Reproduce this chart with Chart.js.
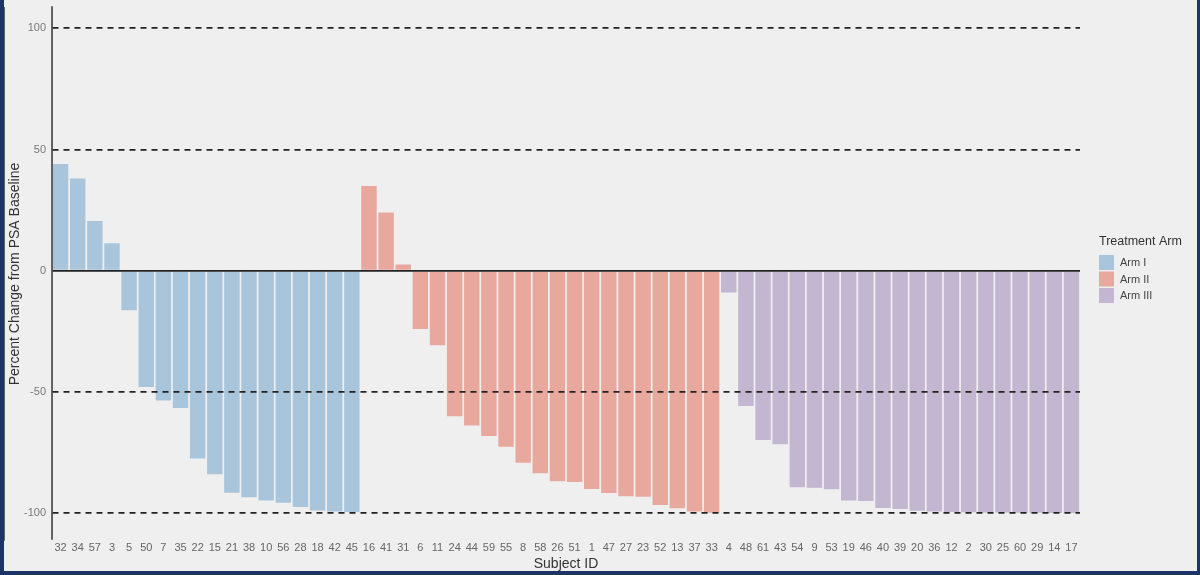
<!DOCTYPE html>
<html>
<head>
<meta charset="utf-8">
<script src="https://cdn.jsdelivr.net/npm/chart.js@4.4.1/dist/chart.umd.min.js"></script>
<style>
  html, body { margin: 0; padding: 0; background: #efefef; }
  #frame {
    width: 1193px; height: 571px;
    border-left: 4px solid #1d3566;
    border-right: 3px solid #1d3566;
    border-bottom: 4px solid #1d3566;
    background: #efefef;
  }
  #wrap { position: relative; width: 1193px; height: 571px; }
</style>
</head>
<body>
<div id="frame"><div id="wrap"><canvas id="waterfall"></canvas></div></div>
<script>
// subject IDs per arm, in plotted order
const armI_ids = ['32','34','57','3','5','50','7','35','22','15','21','38','10','56','28','18','42','45'];
const armII_ids = ['16','41','31','6','11','24','44','59','55','8','58','26','51','1','47','27','23','52','13','37','33'];
const armIII_ids = ['4','48','61','43','54','9','53','19','46','40','39','20','36','12','2','30','25','60','29','14','17'];

// percent change from PSA baseline
const armI_vals = [44, 38, 20.5, 11.3, -16.3, -48, -53.5, -56.6, -77.5, -84, -91.6, -93.4, -94.8, -95.7, -97.5, -98.9, -99.3, -99.5];
const armII_vals = [35, 24, 2.6, -24, -30.7, -60, -63.8, -68.2, -72.6, -79.2, -83.5, -86.8, -87.2, -90, -91.7, -93, -93.2, -96.6, -98, -99.3, -99.8];
const armIII_vals = [-9, -55.8, -69.8, -71.6, -89.3, -89.5, -90.1, -94.8, -95, -97.9, -98.3, -99, -99.3, -99.5, -99.6, -99.7, -99.7, -99.8, -99.8, -99.9, -99.9];

const yTicks = [-100, -50, 0, 50, 100];

const labels = [...armI_ids, ...armII_ids, ...armIII_ids];
const n1 = armI_ids.length, n2 = armII_ids.length, n3 = armIII_ids.length;
const pad = (k) => Array(k).fill(null);

const armI_data = [...armI_vals, ...pad(n2 + n3)];
const armII_data = [...pad(n1), ...armII_vals, ...pad(n3)];
const armIII_data = [...pad(n1 + n2), ...armIII_vals];

const FONT = "'Liberation Sans', Arial, sans-serif";
Chart.defaults.font.family = FONT;

const barStyle = {
  barPercentage: 0.9,
  categoryPercentage: 1.0,
  grouped: false,
  borderWidth: 0
};

// y axis line + ggplot-style legend to the right of the plot
const extras = {
  id: 'extras',
  afterDraw(chart) {
    const { ctx, chartArea } = chart;
    ctx.save();
    ctx.strokeStyle = '#333';
    ctx.lineWidth = 1.5;
    ctx.beginPath();
    ctx.moveTo(chartArea.left, chartArea.top - 2);
    ctx.lineTo(chartArea.left, chartArea.bottom);
    ctx.stroke();

    const x = chartArea.right + 19;
    ctx.fillStyle = '#333';
    ctx.font = '12.5px ' + FONT;
    ctx.textBaseline = 'middle';
    ctx.textAlign = 'left';
    ctx.fillText('Treatment Arm', x, 242);
    chart.data.datasets.forEach((ds, i) => {
      const top = 255 + i * 16.5;
      ctx.fillStyle = ds.backgroundColor;
      ctx.fillRect(x, top, 15, 15);
      ctx.fillStyle = '#444';
      ctx.font = '11px ' + FONT;
      ctx.fillText(ds.label, x + 21, top + 8);
    });
    ctx.restore();
  }
};

const chart = new Chart(document.getElementById('waterfall'), {
  type: 'bar',
  data: {
    labels,
    datasets: [
      { label: 'Arm I', data: armI_data, backgroundColor: '#a9c5db', ...barStyle },
      { label: 'Arm II', data: armII_data, backgroundColor: '#e8a89d', ...barStyle },
      { label: 'Arm III', data: armIII_data, backgroundColor: '#c3b6d0', ...barStyle }
    ]
  },
  plugins: [extras],
  options: {
    responsive: true,
    maintainAspectRatio: false,
    animation: false,
    layout: { padding: { top: -2, right: 117, bottom: 0, left: 0 } },
    plugins: {
      tooltip: { enabled: false },
      legend: { display: false }
    },
    scales: {
      x: {
        offset: true,
        grid: { display: false, drawTicks: false },
        border: { display: false },
        ticks: {
          autoSkip: false,
          maxRotation: 0,
          minRotation: 0,
          padding: 2,
          color: '#666',
          font: { size: 11 }
        },
        title: {
          display: true,
          text: 'Subject ID',
          color: '#333',
          font: { size: 14, lineHeight: 1.0 },
          padding: { top: 0, bottom: 0 }
        }
      },
      y: {
        min: -111,
        max: 108.3,
        grid: {
          z: 1,
          drawTicks: false,
          color: '#222',
          lineWidth: 1.8
        },
        border: {
          display: true,
          color: '#333',
          width: 1.5,
          dash: (c) => (c.tick && c.tick.value !== 0 ? [6, 5] : [])
        },
        afterBuildTicks: (scale) => {
          scale.ticks = yTicks.map((v) => ({ value: v }));
        },
        afterFit: (scale) => {
          scale.width -= 4;
        },
        ticks: {
          padding: 6,
          color: '#777',
          font: { size: 11, lineHeight: 0.4 }
        },
        title: {
          display: true,
          text: 'Percent Change from PSA Baseline',
          color: '#333',
          font: { size: 14, lineHeight: 1.0 },
          padding: { top: 4, bottom: 0 }
        }
      }
    }
  }
});
</script>
</body>
</html>
